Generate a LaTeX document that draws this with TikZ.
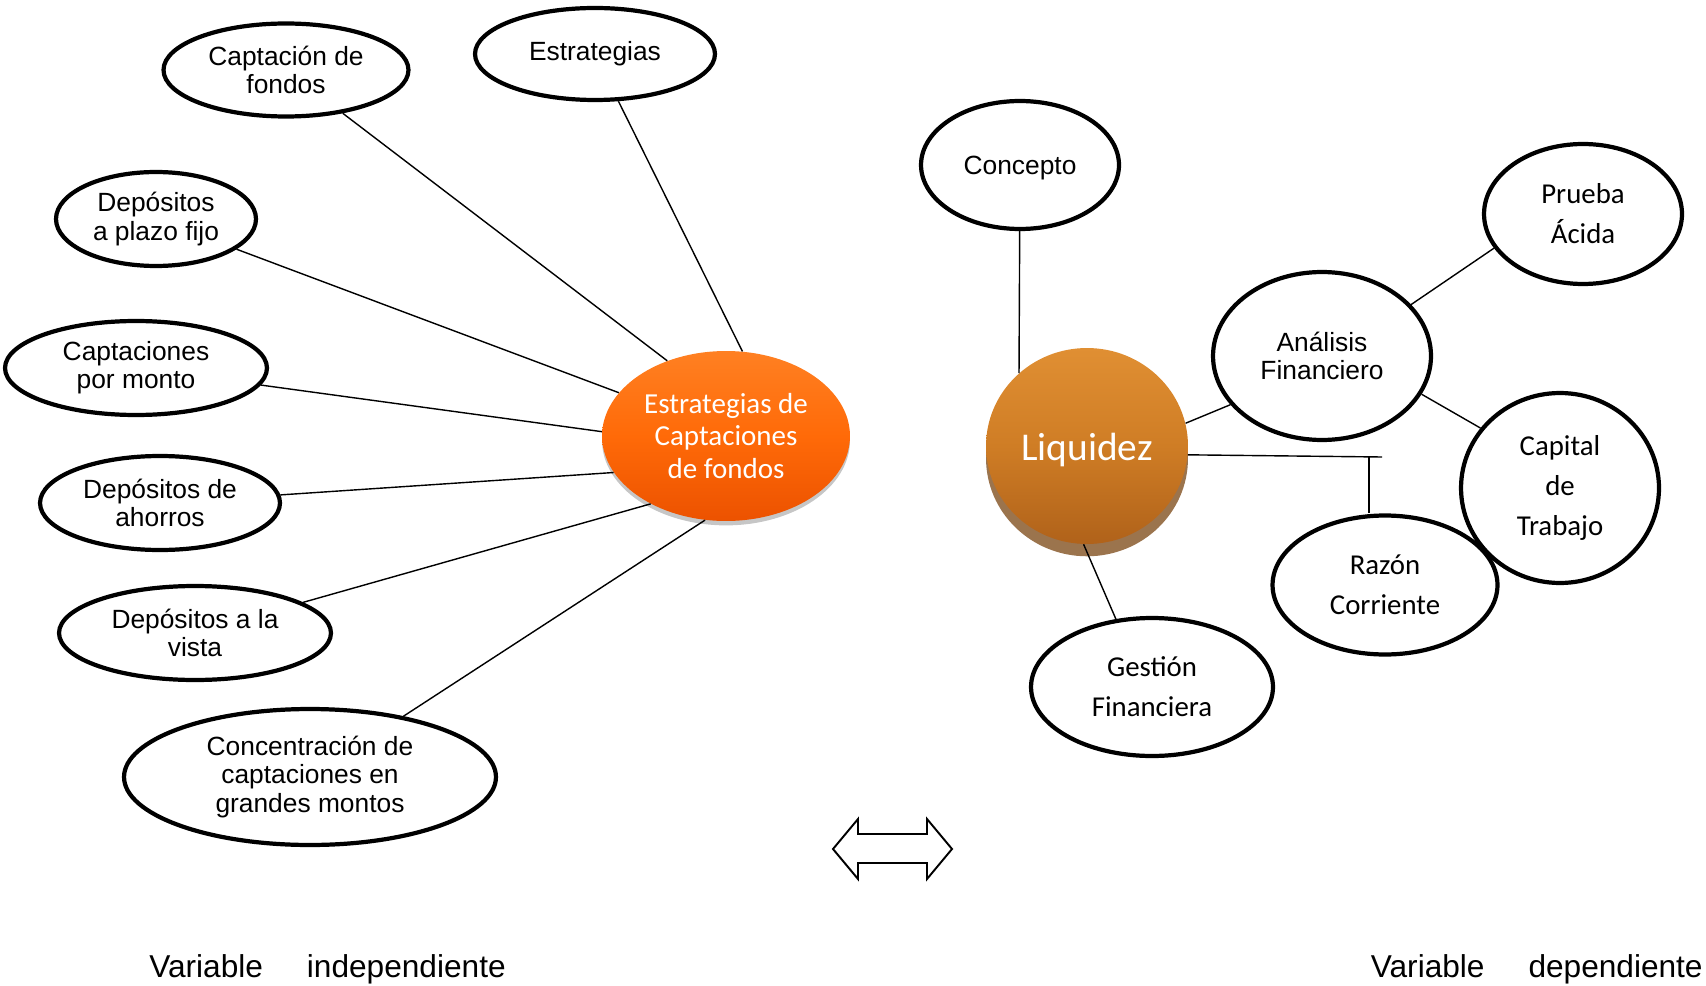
\documentclass[tikz,border=0pt]{standalone}
\usepackage{fontspec}
\setmainfont{Liberation Sans}
\newfontfamily\calibri{Carlito}
\usetikzlibrary{shapes.geometric,shadows}
\definecolor{naranja}{HTML}{FF6A08}
\definecolor{naranjaclaro}{HTML}{FF8022}
\definecolor{naranjaoscuro}{HTML}{EC5200}
\definecolor{cobre}{HTML}{CF7D25}
\definecolor{cobreclaro}{HTML}{E08F33}
\definecolor{cobreoscuro}{HTML}{B0621A}
\definecolor{sombra}{HTML}{7A4512}

\begin{document}
\begin{tikzpicture}[x=0.02cm, y=-0.02cm,
  oval/.style={draw, ellipse, line width=2.4pt, inner sep=0pt, align=center, font={\fontsize{15}{16}\selectfont}},
  ovalc/.style={oval, font={\calibri\fontsize{16.4}{22.7}\selectfont}},
  hub/.style={ellipse, inner sep=0pt, align=center, text=white},
  link/.style={line width=0.8pt},
  etiqueta/.style={inner sep=0pt, font={\fontsize{18}{20}\selectfont}}]
  \useasboundingbox (0,0) rectangle (1706,986);

  \node[hub, minimum width=4.96cm, minimum height=3.4cm, top color=naranjaclaro, bottom color=naranjaoscuro, middle color=naranja,
        drop shadow={shadow xshift=0pt, shadow yshift=-2.5pt, opacity=.45}, font={\calibri\fontsize{16.5}{18.3}\selectfont}]
        (estcap) at (726,436) {Estrategias de\\Captaciones\\de fondos};
  \node[oval, minimum width=4.9cm, minimum height=1.86cm] (captfondos) at (286,70) {Captación de\\fondos};
  \node[oval, minimum width=4.8cm, minimum height=1.84cm] (estrat) at (595,54) {Estrategias};
  \node[oval, minimum width=4.0cm, minimum height=1.88cm] (plazofijo) at (156,219) {Depósitos\\a plazo fijo};
  \node[oval, minimum width=5.24cm, minimum height=1.88cm] (pormonto) at (136,368) {Captaciones\\por monto};
  \node[oval, minimum width=4.8cm, minimum height=1.88cm] (ahorros) at (160,503) {Depósitos de\\ahorros};
  \node[oval, minimum width=5.44cm, minimum height=1.88cm] (vista) at (195,633) {Depósitos a la\\vista};
  \node[oval, minimum width=7.44cm, minimum height=2.72cm] (grandes) at (310,777) {Concentración de\\captaciones en\\grandes montos};

  \draw[link] (captfondos) -- (estcap.128);
  \draw[link] (estrat) -- (estcap.79);
  \draw[link] (plazofijo) -- (estcap.158);
  \draw[link] (pormonto) -- (estcap.178);
  \draw[link] (ahorros) -- (estcap.198);
  \draw[link] (vista) -- (estcap.222);
  \draw[link] (grandes) -- (estcap.256);

  \node[hub, minimum width=4.04cm, minimum height=3.92cm, top color=cobreclaro, bottom color=cobreoscuro, middle color=cobre,
        drop shadow={shadow xshift=0pt, shadow yshift=-7pt, fill=sombra, opacity=.75}, font={\calibri\fontsize{22.4}{26}\selectfont}]
        (liq) at (1087,446) {\raisebox{-2.5pt}[\height][\depth]{Liquidez}};
  \node[oval, minimum width=3.96cm, minimum height=2.56cm] (concepto) at (1020,165) {\raisebox{-2pt}[\height][\depth]{Concepto}};
  \node[oval, minimum width=4.36cm, minimum height=3.36cm] (analisis) at (1322,356) {Análisis\\Financiero};
  \node[ovalc, minimum width=3.96cm, minimum height=2.8cm] (prueba) at (1583,214) {Prueba\\Ácida};
  \node[ovalc, minimum width=3.96cm, minimum height=3.8cm] (capital) at (1560,488) {Capital\\de\\Trabajo};
  \node[ovalc, minimum width=4.5cm, minimum height=2.78cm] (razon) at (1385,585) {Razón\\Corriente};
  \node[ovalc, minimum width=4.84cm, minimum height=2.76cm] (gestion) at (1152,687) {Gestión\\Financiera};

  \draw[link] (concepto) -- (liq.133);
  \draw[link] (liq.13) -- (analisis.208);
  \draw[link] (analisis.30) -- (prueba.201);
  \draw[link] (analisis.339) -- (capital.143);
  \coordinate (ramal) at (1382,457);
  \coordinate (cruce) at (1369,457);
  \draw[link] (liq.-5) -- (ramal);
  \draw[link] (cruce) -- (cruce |- razon.north);
  \draw[link] (liq.268) -- (gestion.118);

  \draw[line width=1.1pt] (833,849) -- (858,819) -- (858,834) -- (927,834) -- (927,819) -- (952,849)
    -- (927,879) -- (927,863) -- (858,863) -- (858,879) -- cycle;

  \node[etiqueta, anchor=base west] (varind) at (149,977) {Variable\hspace{0.88cm}independiente};
  \node[etiqueta, anchor=base east] (vardep) at (1703,977) {Variable\hspace{0.88cm}dependiente};
\end{tikzpicture}
\end{document}
